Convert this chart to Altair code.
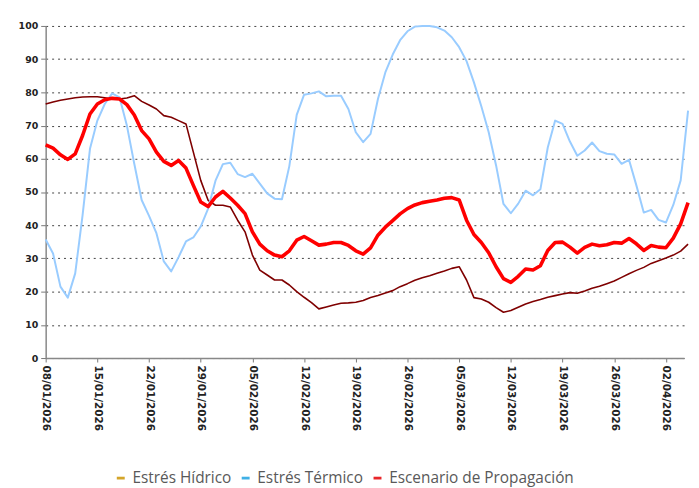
import altair as alt
import pandas as pd

start_date = "2026-01-08"
series_names = ["Estrés Hídrico", "Estrés Térmico", "Escenario de Propagación"]

hidrico = [76.5, 77.1, 77.6, 78.0, 78.4, 78.6, 78.7, 78.7, 78.4, 78.0,
           78.0, 78.3, 79.0, 77.3, 76.2, 75.0, 73.0, 72.5, 71.5, 70.5,
           62.0, 53.5, 47.5, 46.0, 46.0, 45.5, 41.5, 38.0, 31.0, 26.5,
           25.0, 23.5, 23.5, 22.0, 20.0, 18.3, 16.7, 14.8, 15.4, 16.0,
           16.5, 16.6, 16.8, 17.3, 18.2, 18.8, 19.6, 20.3, 21.5, 22.4,
           23.4, 24.2, 24.8, 25.5, 26.2, 27.0, 27.5, 23.5, 18.2, 17.8,
           16.8, 15.2, 13.8, 14.3, 15.3, 16.3, 17.0, 17.6, 18.3, 18.8,
           19.3, 19.7, 19.5, 20.2, 21.0, 21.6, 22.4, 23.2, 24.3, 25.4,
           26.4, 27.3, 28.5, 29.3, 30.1, 31.0, 32.2, 34.3]

termico = [35.7, 31.5, 21.5, 18.2, 25.5, 43.0, 63.0, 71.5, 76.5, 79.7,
           78.5, 70.0, 58.5, 47.6, 42.8, 37.6, 29.1, 26.1, 30.4, 35.1,
           36.3, 39.6, 45.0, 53.4, 58.4, 58.8, 55.4, 54.5, 55.5, 52.5,
           49.6, 48.0, 47.8, 57.8, 73.2, 79.3, 79.7, 80.3, 78.8, 79.0,
           79.0, 75.0, 68.0, 65.0, 67.5, 78.0, 86.0, 91.4, 95.7, 98.4,
           99.8, 100.0, 100.0, 99.6, 98.6, 96.6, 93.6, 89.4, 83.0, 75.8,
           68.0, 58.0, 46.4, 43.6, 46.5, 50.4, 49.0, 50.8, 63.4, 71.5,
           70.5, 65.2, 60.9, 62.5, 64.9, 62.3, 61.5, 61.3, 58.5, 59.7,
           52.0, 43.8, 44.6, 41.6, 40.8, 46.1, 53.5, 74.5]

propagacion = [64.2, 63.2, 61.2, 59.8, 61.5, 67.0, 73.5, 76.5, 77.8, 78.2,
               78.0, 76.3, 73.2, 68.5, 66.0, 62.0, 59.2, 58.0, 59.5, 57.2,
               52.0, 47.0, 45.6, 48.5, 50.2, 48.2, 46.0, 43.5, 38.0, 34.3,
               32.3, 31.0, 30.5, 32.3, 35.5, 36.6, 35.3, 34.0, 34.3, 34.8,
               34.8, 33.9, 32.3, 31.3, 33.2, 37.0, 39.4, 41.4, 43.4, 45.0,
               46.1, 46.8, 47.2, 47.6, 48.1, 48.3, 47.6, 41.5, 37.2, 34.8,
               31.7, 27.5, 23.9, 22.8, 24.6, 26.8, 26.5, 27.8, 32.4, 34.8,
               34.9, 33.4, 31.6, 33.3, 34.3, 33.8, 34.1, 34.8, 34.6, 36.0,
               34.4, 32.4, 33.9, 33.4, 33.2, 36.1, 40.4, 46.8]

tick_labels = ["08/01/2026", "15/01/2026", "22/01/2026", "29/01/2026",
               "05/02/2026", "12/02/2026", "19/02/2026", "26/02/2026",
               "05/03/2026", "12/03/2026", "19/03/2026", "26/03/2026",
               "02/04/2026"]
y_ticks = [0, 10, 20, 30, 40, 50, 60, 70, 80, 90, 100]

line_colors = ["#7f0000", "#99ccff", "#ff0000"]
line_widths = [1.6, 2.0, 3.6]
legend_colors = ["#d4a52a", "#3fb0e6", "#e8262a"]

dates = pd.date_range(start_date, periods=len(hidrico), freq="D")
rows = []
for name, vals in zip(series_names, [hidrico, termico, propagacion]):
    for d, v in zip(dates, vals):
        rows.append({"fecha": d.strftime("%Y-%m-%d"), "valor": v, "serie": name})
df = pd.DataFrame(rows)


def ms(ts):
    return int(pd.Timestamp(ts, tz="UTC").value // 10**6)


tick_ms = [ms(pd.to_datetime(t, format="%d/%m/%Y")) for t in tick_labels]
# visible window ends a little before the last day; the line runs to the edge
x_domain = [ms(dates[0]), ms(dates[-1] - pd.Timedelta(hours=13))]

x_enc = alt.X(
    "fecha:T",
    scale=alt.Scale(type="utc", domain=x_domain),
    axis=alt.Axis(
        values=tick_ms, format="%d/%m/%Y", labelAngle=90, title=None,
        grid=False, labelFont="DejaVu Sans", labelFontWeight="bold",
        labelFontSize=10.5, labelColor="#222222", labelPadding=3,
        tickSize=4, tickColor="#777777", domainColor="#888888",
        domainWidth=1.5, labelAlign="left", labelBaseline="middle",
    ),
)
y_enc = alt.Y(
    "valor:Q",
    scale=alt.Scale(domain=[0, 100], nice=False),
    axis=alt.Axis(
        values=y_ticks, title=None, grid=True, gridDash=[2, 4],
        gridColor="#444444", gridWidth=1, labelFont="DejaVu Sans",
        labelFontWeight="bold", labelFontSize=9.5, labelColor="#222222",
        labelPadding=3, tickSize=5, tickColor="#777777",
        domainColor="#888888", domainWidth=1.5,
    ),
)

base = alt.Chart(df)
layers = []
for name, col, w in zip(series_names, line_colors, line_widths):
    layers.append(
        base.transform_filter(alt.datum.serie == name)
        .mark_line(color=col, strokeWidth=w, interpolate="linear", strokeJoin="round")
        .encode(x=x_enc, y=y_enc)
    )

legend_layer = base.mark_point(opacity=0, filled=True).encode(
    x=x_enc,
    y=y_enc,
    fill=alt.Fill(
        "serie:N",
        scale=alt.Scale(domain=series_names, range=legend_colors),
        legend=alt.Legend(
            title=None, orient="none", direction="horizontal",
            legendX=68, legendY=448,
            symbolType="M-1,-0.35L1,-0.35L1,0.35L-1,0.35Z",
            symbolSize=64, symbolOpacity=1, symbolStrokeWidth=0,
            labelFont="Open Sans", labelFontSize=15.5, labelColor="#595959",
            labelOffset=4, columnPadding=6, labelLimit=0,
        ),
    ),
)

chart = (
    alt.layer(*layers, legend_layer)
    .properties(width=644, height=335,
                padding={"left": 10, "top": 11, "right": 0, "bottom": 0})
    .configure_view(stroke=None)
)

chart.save("out.html", embed_options={"renderer": "svg", "actions": False})
